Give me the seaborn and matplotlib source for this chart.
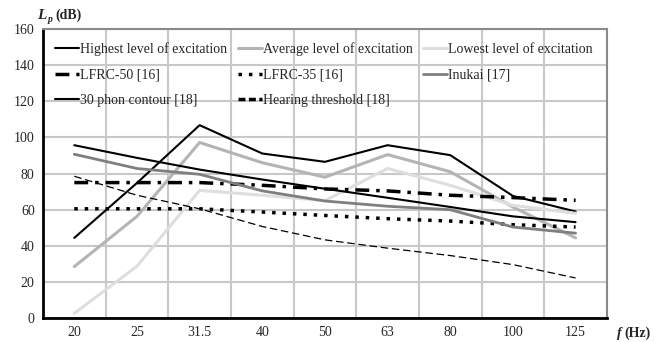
import numpy as np
import pandas as pd
import matplotlib.pyplot as plt
import seaborn as sns
from matplotlib.ticker import FixedLocator

freqs = ["20", "25", "31.5", "40", "50", "63", "80", "100", "125"]

highest = [44.4, 74.8, 106.8, 91.1, 86.5, 95.7, 90.2, 67.6, 59.0]
average = [28.5, 56.3, 97.2, 86.0, 78.0, 90.5, 81.0, 61.5, 44.4]
lowest = [2.6, 28.7, 70.7, 68.0, 65.0, 82.8, 73.5, 62.4, 58.0]
lfrc50 = [75.0, 75.0, 75.0, 73.5, 71.5, 70.4, 68.0, 66.7, 65.2]
lfrc35 = [60.5, 60.5, 60.5, 58.7, 56.8, 55.0, 53.7, 51.7, 50.4]
inukai = [90.7, 82.8, 79.6, 70.4, 64.8, 61.9, 60.0, 50.4, 47.0]
phon30 = [95.7, 88.7, 82.2, 76.7, 71.6, 66.6, 61.5, 56.3, 53.1]
threshold = [78.5, 68.0, 60.5, 50.7, 43.3, 38.7, 34.6, 29.6, 22.2]

series = [
    ("Highest level of excitation", highest, dict(color="black", lw=1.5, ls="-")),
    ("Average level of excitation", average, dict(color="#b4b4b4", lw=2.2, ls="-")),
    ("Lowest level of excitation", lowest, dict(color="#dedede", lw=2.2, ls="-")),
    ("LFRC-50 [16]", lfrc50, dict(color="black", lw=2.5, ls=(0, (4, 2, 1, 2)))),
    ("LFRC-35 [16]", lfrc35, dict(color="black", lw=2.5, ls=(0, (1, 2)))),
    ("Inukai [17]", inukai, dict(color="#7f7f7f", lw=2.0, ls="-")),
    ("30 phon contour [18]", phon30, dict(color="black", lw=1.5, ls="-")),
    ("Hearing threshold [18]", threshold, dict(color="black", lw=0.9, ls=(0, (6, 3)))),
]

sns.set_style("white")
plt.rcParams["font.family"] = ["Liberation Serif", "DejaVu Serif"]

fig = plt.figure(figsize=(6.54, 3.42), dpi=100)
ax = fig.add_axes([0.0657, 0.070, 0.8623, 0.845])

pos = np.arange(len(freqs))
for name, vals, st in series:
    df = pd.DataFrame({"x": pos, "y": vals})
    sns.lineplot(data=df, x="x", y="y", ax=ax, label=name, color=st["color"],
                 linewidth=st["lw"], linestyle=st["ls"])

ax.set_xlim(-0.5, len(freqs) - 0.5)
ax.set_ylim(0, 160)
ax.set_yticks(np.arange(0, 161, 20))
ax.set_xticks(pos)
ax.set_xticklabels(freqs)
ax.xaxis.set_minor_locator(FixedLocator(np.arange(-0.5, len(freqs), 1.0)))
ax.tick_params(axis="x", which="major", length=0, pad=6, labelsize=10)
ax.tick_params(axis="x", which="minor", length=4, width=1.5, direction="out", color="black")
ax.tick_params(axis="y", which="major", length=4, width=1.5, direction="out", color="black",
               labelsize=10, pad=2)
ax.grid(True, axis="y", color="#c8c8c8", lw=1.5)
ax.grid(True, axis="x", which="minor", color="#c8c8c8", lw=1.5)
ax.grid(False, axis="x", which="major")
ax.set_axisbelow(True)
ax.set_xlabel("")
ax.set_ylabel("")

for side in ["left", "bottom"]:
    ax.spines[side].set_color("black")
    ax.spines[side].set_linewidth(2)
for side in ["top", "right"]:
    ax.spines[side].set_color("#8a8a8a")
    ax.spines[side].set_linewidth(1.5)

# legend filled row by row, like the original
handles, labels = ax.get_legend_handles_labels()
order = [0, 3, 6, 1, 4, 7, 2, 5]
leg = ax.legend([handles[i] for i in order], [labels[i] for i in order],
                ncol=3, loc="upper left", bbox_to_anchor=(0.0, 0.998), frameon=False,
                fontsize=10, handlelength=1.7, handletextpad=0.1, columnspacing=0.75,
                labelspacing=0.9)
for line, lab in zip(leg.get_lines(), [labels[i] for i in order]):
    if lab.startswith("Hearing"):
        line.set_linewidth(2.5)
        line.set_linestyle((0, (2, 1)))

fig.text(0.057, 0.956, "L", fontsize=11, ha="left", va="center", style="italic",
         fontweight="bold")
fig.text(0.073, 0.942, "p", fontsize=7, ha="left", va="center", style="italic",
         fontweight="bold")
fig.text(0.084, 0.956, "(dB)", fontsize=10, ha="left", va="center", fontweight="bold")
fig.text(0.943, 0.026, "f", fontsize=10, ha="left", va="center", style="italic",
         fontweight="bold")
fig.text(0.955, 0.026, "(Hz)", fontsize=10, ha="left", va="center", fontweight="bold")

fig.savefig("out.png", dpi=100)
